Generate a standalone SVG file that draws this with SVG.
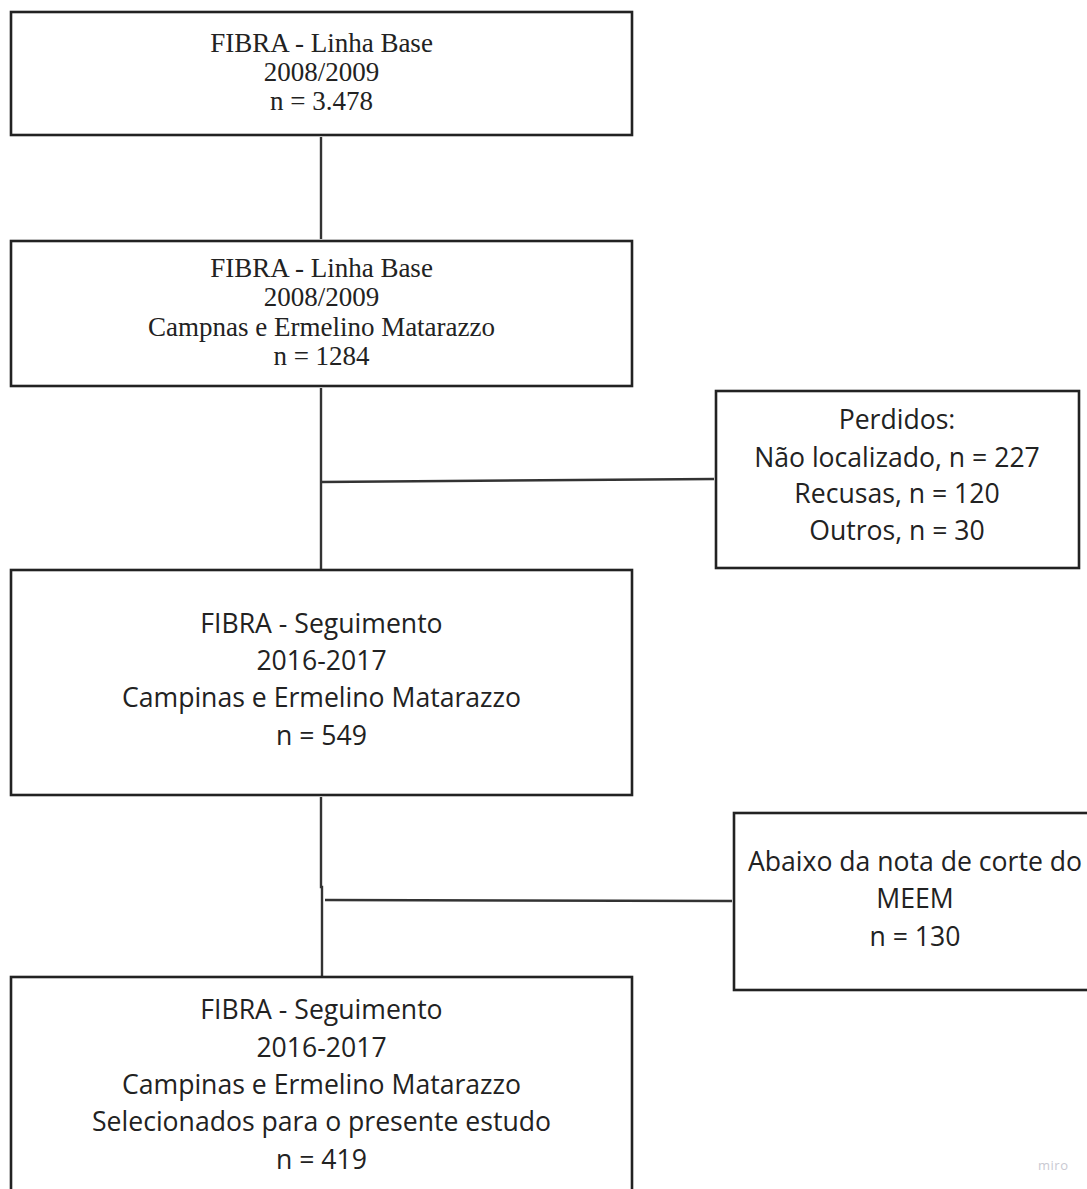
<svg xmlns="http://www.w3.org/2000/svg" width="1087" height="1189" viewBox="0 0 1087 1189">
  <style>
    .box { fill: #ffffff; stroke: #222222; stroke-width: 2.6; }
    .link { fill: none; stroke: #333333; stroke-width: 2.4; }
    .serif { font-family: "Liberation Serif", "Times New Roman", serif; font-size: 27px; fill: #222222; text-anchor: middle; }
    .sans { font-family: "Open Sans", "Noto Sans", sans-serif; font-size: 26.6px; fill: #222222; text-anchor: middle; }
    .mark { font-family: "Open Sans", "Noto Sans", sans-serif; font-size: 13px; fill: #c9c9d2; letter-spacing: 0.5px; }
  </style>
  <rect width="1087" height="1189" fill="#ffffff"/>

  <g id="connectors">
    <line class="link" x1="321" y1="137" x2="321" y2="239"/>
    <line class="link" x1="321" y1="388" x2="321" y2="569"/>
    <line class="link" x1="321" y1="482" x2="714" y2="479"/>
    <polyline class="link" points="321,797 321,887 322,887 322,976"/>
    <line class="link" x1="325" y1="900" x2="732" y2="901"/>
  </g>

  <g id="baseline-all">
    <rect class="box" x="11" y="12" width="621" height="123"/>
    <text class="serif" x="321.5" y="52">FIBRA - Linha Base</text>
    <text class="serif" x="321.5" y="81">2008/2009</text>
    <text class="serif" x="321.5" y="110">n = 3.478</text>
  </g>

  <g id="baseline-sites">
    <rect class="box" x="11" y="241" width="621" height="145"/>
    <text class="serif" x="321.5" y="277">FIBRA - Linha Base</text>
    <text class="serif" x="321.5" y="306">2008/2009</text>
    <text class="serif" x="321.5" y="336">Campnas e Ermelino Matarazzo</text>
    <text class="serif" x="321.5" y="365">n = 1284</text>
  </g>

  <g id="lost">
    <rect class="box" x="716" y="391" width="363" height="177"/>
    <text class="sans" x="897" y="429">Perdidos:</text>
    <text class="sans" x="897" y="467">Não localizado, n = 227</text>
    <text class="sans" x="897" y="503">Recusas, n = 120</text>
    <text class="sans" x="897" y="540">Outros, n = 30</text>
  </g>

  <g id="followup">
    <rect class="box" x="11" y="570" width="621" height="225"/>
    <text class="sans" x="321.5" y="633">FIBRA - Seguimento</text>
    <text class="sans" x="321.5" y="670">2016-2017</text>
    <text class="sans" x="321.5" y="707">Campinas e Ermelino Matarazzo</text>
    <text class="sans" x="321.5" y="745">n = 549</text>
  </g>

  <g id="meem-cut">
    <rect class="box" x="734" y="813" width="363" height="177"/>
    <text class="sans" x="915" y="871">Abaixo da nota de corte do</text>
    <text class="sans" x="915" y="908">MEEM</text>
    <text class="sans" x="915" y="946">n = 130</text>
  </g>

  <g id="selected">
    <rect class="box" x="11" y="977" width="621" height="240"/>
    <text class="sans" x="321.5" y="1019">FIBRA - Seguimento</text>
    <text class="sans" x="321.5" y="1057">2016-2017</text>
    <text class="sans" x="321.5" y="1094">Campinas e Ermelino Matarazzo</text>
    <text class="sans" x="321.5" y="1131">Selecionados para o presente estudo</text>
    <text class="sans" x="321.5" y="1169">n = 419</text>
  </g>

  <text class="mark" x="1038" y="1170">miro</text>
</svg>
